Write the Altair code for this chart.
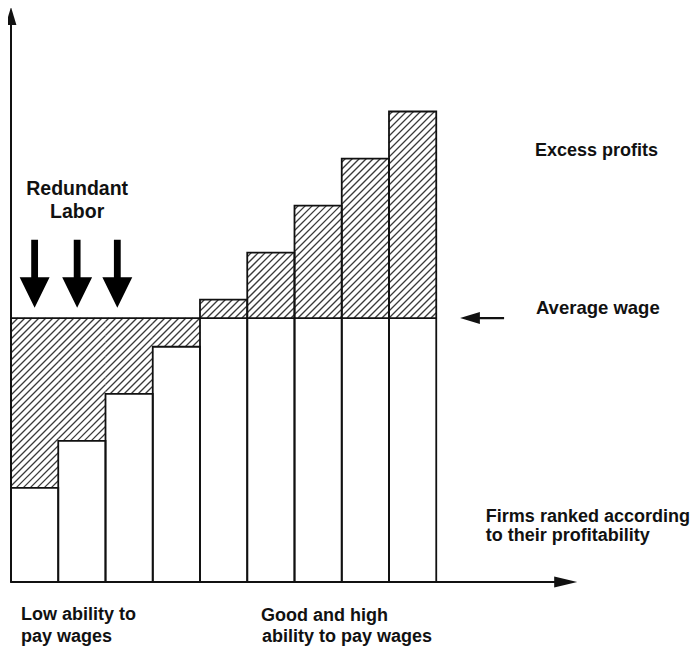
import altair as alt
import pandas as pd
import numpy as np

# ---- data ----
firm_rank = [1, 2, 3, 4, 5, 6, 7, 8, 9]
profitability = [2.0, 3.0, 4.0, 5.0, 6.0, 7.0, 8.0, 9.0, 10.0]
average_wage = 5.61

label_text = ["Excess profits", "Average wage", "Firms ranked according", "to their profitability",
              "Low ability to", "pay wages", "Good and high", "ability to pay wages"]
label_x = [11.09, 11.11, 10.05, 10.05, 0.21, 0.21, 5.29, 5.31]
label_y = [9.05, 5.70, 1.28, 0.87, -0.815, -1.28, -0.83, -1.28]
label_size = [18, 18.5, 18, 18, 18, 18, 18, 18]

redundant_text = ["Redundant", "Labor"]
redundant_x = [1.40, 1.40]
redundant_y = [8.23, 7.74]

down_arrow_x = [0.5, 1.4, 2.25]
down_arrow_y = [6.55, 6.55, 6.55]

# ---- geometry / scales ----
W, H = 567, 572
XD = [0, 12]
YD = [0, 12.157]
pxx = W / (XD[1] - XD[0])
pxy = H / (YD[1] - YD[0])
xs = alt.Scale(domain=XD, nice=False, zero=False)
ys = alt.Scale(domain=YD, nice=False, zero=False)

bars = pd.DataFrame({
    "x0": [r - 1 for r in firm_rank],
    "x1": firm_rank,
    "top": profitability,
})

# hatch segments (45 degree lines, computed in pixel space, clipped to each hatched cell)
segs = []
spacing = 7.0
for r, v in zip(firm_rank, profitability):
    X0, X1 = (r - 1) * pxx, r * pxx
    Y0, Y1 = min(v, average_wage) * pxy, max(v, average_wage) * pxy
    for K in np.arange(-800, 800, spacing):
        xa = max(X0, Y0 - K)
        xb = min(X1, Y1 - K)
        if xb - xa > 0.3:
            segs.append({"x": xa / pxx, "x2": xb / pxx,
                         "y": (xa + K) / pxy, "y2": (xb + K) / pxy})
hatch = pd.DataFrame(segs)

hatch_layer = alt.Chart(hatch).mark_rule(color="#3a3a3a", strokeWidth=1.3).encode(
    x=alt.X("x:Q", scale=xs, axis=None), x2="x2:Q",
    y=alt.Y("y:Q", scale=ys, axis=None), y2="y2:Q")

bar_layer = alt.Chart(bars).mark_rect(fill="transparent", stroke="#111", strokeWidth=1.8).encode(
    x=alt.X("x0:Q", scale=xs, axis=None), x2="x1:Q",
    y=alt.Y("top:Q", scale=ys, axis=None), y2=alt.datum(0))

avg_df = pd.DataFrame({"x0": [0], "x1": [max(firm_rank)], "y": [average_wage]})
avg_layer = alt.Chart(avg_df).mark_rule(color="#111", strokeWidth=1.8).encode(
    x=alt.X("x0:Q", scale=xs, axis=None), x2="x1:Q",
    y=alt.Y("y:Q", scale=ys, axis=None))

axes_df = pd.DataFrame({"x": [0, 0], "x2": [0, 11.6], "y": [0, 0], "y2": [12.0, 0]})
axes_layer = alt.Chart(axes_df).mark_rule(color="#111", strokeWidth=2).encode(
    x=alt.X("x:Q", scale=xs, axis=None), x2="x2:Q",
    y=alt.Y("y:Q", scale=ys, axis=None), y2="y2:Q")

yhead = alt.Chart(pd.DataFrame({"x": [0], "y": [12.03]})).mark_point(
    shape="M0,-1L0.6,1L-0.6,1Z", size=324, filled=True, fill="#111", opacity=1, strokeWidth=0).encode(
    x=alt.X("x:Q", scale=xs, axis=None), y=alt.Y("y:Q", scale=ys, axis=None))

xhead = alt.Chart(pd.DataFrame({"x": [11.74], "y": [0]})).mark_point(
    shape="M1,0L-1,0.48L-1,-0.48Z", size=529, filled=True, fill="#111", opacity=1, strokeWidth=0).encode(
    x=alt.X("x:Q", scale=xs, axis=None), y=alt.Y("y:Q", scale=ys, axis=None))

down_layer = alt.Chart(pd.DataFrame({"x": down_arrow_x, "y": down_arrow_y})).mark_point(
    shape="M-0.1,-1L0.1,-1L0.1,0.1L0.44,0.1L0,1L-0.44,0.1L-0.1,0.1Z",
    size=4624, filled=True, fill="#000", opacity=1, strokeWidth=0).encode(
    x=alt.X("x:Q", scale=xs, axis=None), y=alt.Y("y:Q", scale=ys, axis=None))

left_arrow = alt.Chart(pd.DataFrame({"x": [9.97], "y": [average_wage]})).mark_point(
    shape="M-1,0L-0.1,-0.27L-0.1,-0.05L1,-0.05L1,0.05L-0.1,0.05L-0.1,0.27Z",
    size=1936, filled=True, fill="#111", opacity=1, strokeWidth=0).encode(
    x=alt.X("x:Q", scale=xs, axis=None), y=alt.Y("y:Q", scale=ys, axis=None))

labels = pd.DataFrame({"t": label_text, "x": label_x, "y": label_y, "s": label_size})
label_layer = alt.Chart(labels).mark_text(
    align="left", baseline="alphabetic", font="Liberation Sans, Arial, sans-serif",
    fontWeight="bold", color="#111").encode(
    x=alt.X("x:Q", scale=xs, axis=None), y=alt.Y("y:Q", scale=ys, axis=None),
    text="t:N", size=alt.Size("s:Q", scale=None))

red = pd.DataFrame({"t": redundant_text, "x": redundant_x, "y": redundant_y})
red_layer = alt.Chart(red).mark_text(
    align="center", baseline="alphabetic", font="Liberation Sans, Arial, sans-serif",
    fontWeight="bold", fontSize=19.5, color="#111").encode(
    x=alt.X("x:Q", scale=xs, axis=None), y=alt.Y("y:Q", scale=ys, axis=None), text="t:N")

chart = alt.layer(
    hatch_layer, bar_layer, avg_layer, axes_layer, yhead, xhead,
    down_layer, left_arrow, label_layer, red_layer
).properties(
    width=W, height=H,
    autosize=alt.AutoSizeParams(type="none"),
    padding={"left": 3, "top": 2, "right": 113, "bottom": 64},
    background="white",
).configure_view(strokeWidth=0)

chart.save("out.html", embed_options={"renderer": "svg", "actions": False})
